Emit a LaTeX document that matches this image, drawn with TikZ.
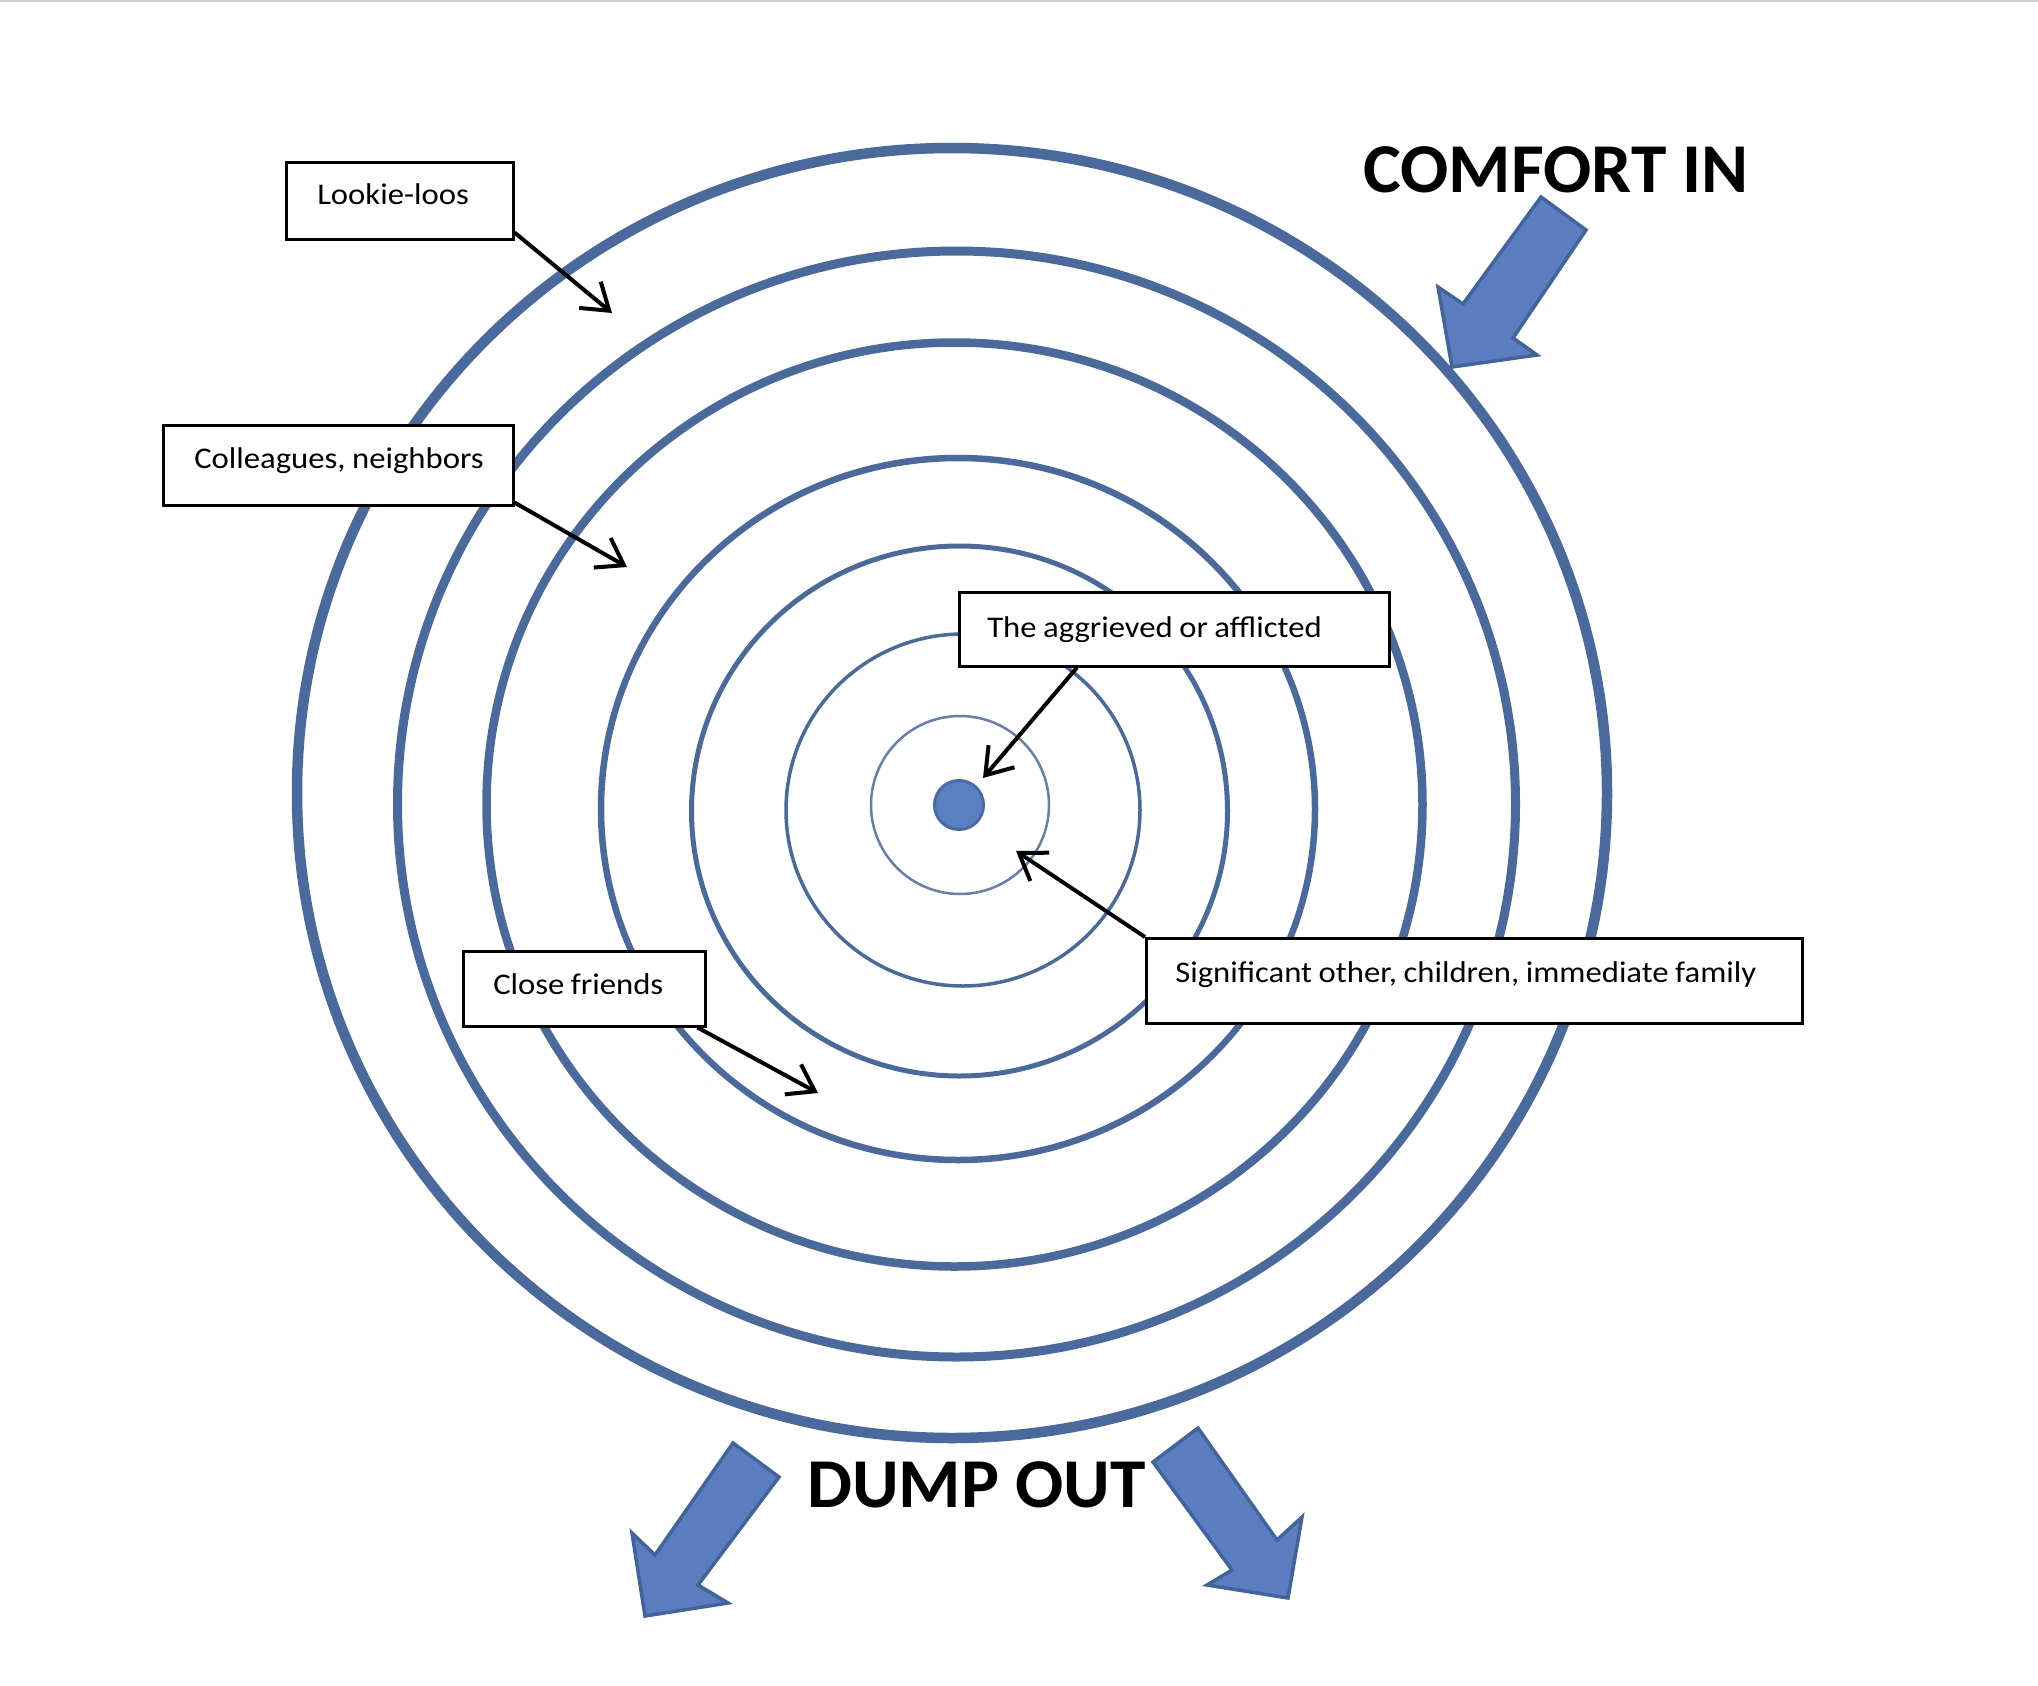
\documentclass[tikz,border=0pt]{standalone}
\usepackage{fontspec}
\setmainfont{Carlito}
\newfontfamily\lblfont{Carlito}[FakeStretch=1.09]
\newfontfamily\bigfont{Carlito}[FakeStretch=1.02]
\newcommand\lbltext[1]{\mbox{\spaceskip=6.5pt\relax #1}}
\usetikzlibrary{arrows.meta}
\definecolor{ringc}{HTML}{4A6A9E}
\definecolor{afill}{HTML}{5A7EBF}
\definecolor{aedge}{HTML}{41649C}
\definecolor{dotf}{HTML}{5B80C2}
\definecolor{dote}{HTML}{4A6BA8}
\tikzset{
  ring/.style={draw=ringc},
  lbox/.style={draw=black, line width=2.5pt, fill=white, anchor=north west,
    inner ysep=0pt, align=left, font=\lblfont\fontsize{30pt}{36pt}\selectfont},
  ptr/.style={draw=black, line width=4pt, -{Straight Barb[length=25pt,width=34pt]}},
  barrow/.style={fill=afill, draw=aedge, line width=3.5pt, line join=miter},
  bigtxt/.style={font=\bigfont\fontsize{70pt}{84pt}\selectfont\bfseries, anchor=base west, inner sep=0pt}
}
\begin{document}
\begin{tikzpicture}[x=1pt,y=-1pt]
\useasboundingbox (0,0) rectangle (2038,1686);
\fill[white] (0,0) rectangle (2038,1686);
\draw[black!18, line width=2pt] (0,1) -- (2038,1);

% rings
\draw[ring, line width=10.5pt] (952,793) ellipse [x radius=655pt, y radius=645pt];
\draw[ring, line width=9pt] (956.5,804) ellipse [x radius=559pt, y radius=553pt];
\draw[ring, line width=8.5pt] (954.5,804.5) ellipse [x radius=468pt, y radius=462pt];
\draw[ring, line width=6.5pt] (958,809) ellipse [x radius=357pt, y radius=351pt];
\draw[ring, line width=5pt] (959.5,811) ellipse [x radius=268pt, y radius=265pt];
\draw[ring, line width=3.5pt] (963,810) ellipse [x radius=177pt, y radius=176pt];
\draw[ring, draw=ringc!85, line width=2.5pt] (960,805) ellipse [x radius=89pt, y radius=89pt];

% center dot
\node[circle, fill=dotf, draw=dote, line width=3pt, minimum size=49pt, inner sep=0pt] (dot) at (959,805) {};

% label boxes
\node[lbox, inner xsep=31pt, text width=165pt, text height=42pt, text depth=35pt] (lk) at (285,161) {\lbltext{Lookie-loos}};
\node[lbox, inner xsep=31pt, text width=288pt, text height=43pt, text depth=37pt] (col) at (162,424) {\lbltext{Colleagues, neighbors}};
\node[lbox, inner xsep=28pt, text width=374pt, text height=45pt, text depth=29pt] (ag) at (958,591) {\lbltext{The aggrieved or afflicted}};
\node[lbox, inner xsep=30pt, text width=182pt, text height=43pt, text depth=32pt] (cf) at (462,950) {\lbltext{Close friends}};
\node[lbox, inner xsep=29pt, text width=598pt, text height=44pt, text depth=41pt] (sig) at (1145,937) {\lbltext{Significant other, children, immediate family}};

% pointer ends
\coordinate (lkT) at (612,313);
\coordinate (colT) at (627,567);
\coordinate (agT) at (983,778);
\coordinate (cfT) at (818,1093);
\coordinate (sigT) at (1016,851);

\draw[ptr] ([yshift=8pt]lk.south east) -- (lkT);
\draw[ptr] ([yshift=4pt]col.south east) -- (colT);
\draw[ptr] ([xshift=119pt]ag.south west) -- (agT);
\draw[ptr] ([xshift=-9pt]cf.south east) -- (cfT);
\draw[ptr] (sig.north west) -- (sigT);

% block arrows
\draw[barrow] (1541,197) -- (1586,230) -- (1513,338) -- (1537,355) -- (1452,367) -- (1438,287) -- (1463,304) -- cycle;
\draw[barrow] (733,1443) -- (779,1477) -- (698,1585) -- (728,1603) -- (645,1616) -- (632,1533) -- (655,1555) -- cycle;
\draw[barrow] (1153,1462) -- (1198,1428) -- (1277,1540) -- (1302,1517) -- (1288,1598) -- (1207,1585) -- (1232,1570) -- cycle;

% titles
\node[bigtxt] (ci) at (1363,192) {COMFORT IN};
\node[bigtxt] (dout) at (807,1507) {DUMP OUT};
\end{tikzpicture}
\end{document}
